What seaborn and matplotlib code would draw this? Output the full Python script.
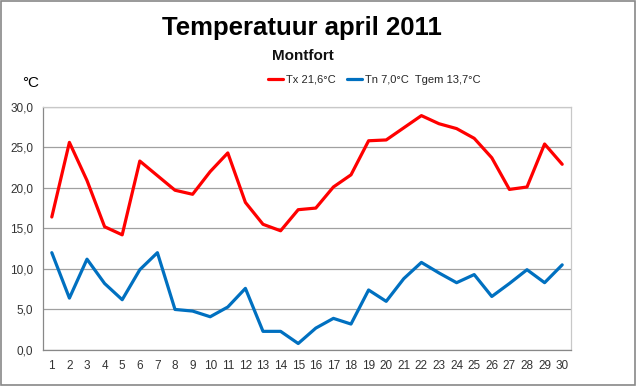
import numpy as np
import pandas as pd
import matplotlib
matplotlib.use("Agg")
import matplotlib.pyplot as plt
import seaborn as sns

days = list(range(1, 31))
tx = [16.4, 25.6, 20.9, 15.2, 14.2, 23.3, 21.5, 19.7, 19.2, 22.0,
      24.3, 18.2, 15.5, 14.7, 17.3, 17.5, 20.1, 21.6, 25.8, 25.9,
      27.4, 28.9, 27.9, 27.3, 26.1, 23.7, 19.8, 20.1, 25.4, 22.9]
tn = [12.0, 6.4, 11.2, 8.2, 6.2, 9.9, 12.0, 5.0, 4.8, 4.1,
      5.3, 7.6, 2.3, 2.3, 0.8, 2.7, 3.9, 3.2, 7.4, 6.0,
      8.8, 10.8, 9.5, 8.3, 9.3, 6.6, 8.2, 9.9, 8.3, 10.5]
series_names = ["Tx 21,6°C", "Tn 7,0°C  Tgem 13,7°C"]
y_ticks = [0, 5, 10, 15, 20, 25, 30]
y_tick_labels = ["0,0", "5,0", "10,0", "15,0", "20,0", "25,0", "30,0"]

df = pd.DataFrame({
    "dag": days * 2,
    "temp": tx + tn,
    "reeks": [series_names[0]] * len(days) + [series_names[1]] * len(days),
})

sns.set_theme(style="white")
plt.rcParams["font.family"] = ["Liberation Sans", "DejaVu Sans"]

fig = plt.figure(figsize=(6.4, 3.86), dpi=100)
ax = fig.add_axes([43 / 640, 36 / 386, 528 / 640, 243.3 / 386])

sns.lineplot(data=df, x="dag", y="temp", hue="reeks",
             palette={series_names[0]: "#FF0000", series_names[1]: "#0070C0"},
             linewidth=2.3, ax=ax, legend=True)

ax.set_xlim(0.5, 30.5)
ax.set_ylim(0, 30)
ax.set_yticks(y_ticks)
ax.set_yticklabels(y_tick_labels)
ax.set_xticks(days)
ax.set_xticklabels([str(d) for d in days])
ax.set_xticks(np.arange(0.5, 31, 1), minor=True)
ax.tick_params(axis="x", which="major", length=0, pad=7, labelsize=8.5, labelcolor="#333333")
ax.tick_params(axis="x", which="minor", length=4, color="#888888", width=0.8, direction="out")
ax.tick_params(axis="y", which="major", length=4, color="#888888", width=0.8,
               direction="out", pad=3, labelsize=8.5, labelcolor="#333333")
ax.set_xlabel("")
ax.set_ylabel("")
ax.grid(axis="y", color="#A0A0A0", linewidth=0.9)
ax.set_axisbelow(True)
for s in ["left", "bottom"]:
    ax.spines[s].set_color("#888888")
    ax.spines[s].set_linewidth(0.9)
for s in ["top", "right"]:
    ax.spines[s].set_color("#C8C8C8")
    ax.spines[s].set_linewidth(0.9)

leg = ax.legend(loc="center left", bbox_to_anchor=(264 / 640, 1 - 80 / 386),
                bbox_transform=fig.transFigure, ncol=2, frameon=False,
                fontsize=8, handlelength=1.35, handletextpad=0.25,
                columnspacing=1.0, borderaxespad=0)
for line in leg.get_lines():
    line.set_linewidth(2.3)

fig.text(302 / 640, 1 - 28 / 386, "Temperatuur april 2011", ha="center", va="center",
         fontsize=18.5, fontweight="bold", color="black")
fig.text(303 / 640, 1 - 56 / 386, "Montfort", ha="center", va="center",
         fontsize=11, fontweight="bold", color="#111111")
fig.text(22 / 640, 1 - 83 / 386, "°C", ha="left", va="center",
         fontsize=11, color="black")

fig.patches.append(plt.Rectangle((0.002, 0.003), 0.99, 0.994, transform=fig.transFigure,
                                 fill=False, edgecolor="#888888", linewidth=1.2))

fig.savefig("out.png", dpi=100, facecolor="white")
